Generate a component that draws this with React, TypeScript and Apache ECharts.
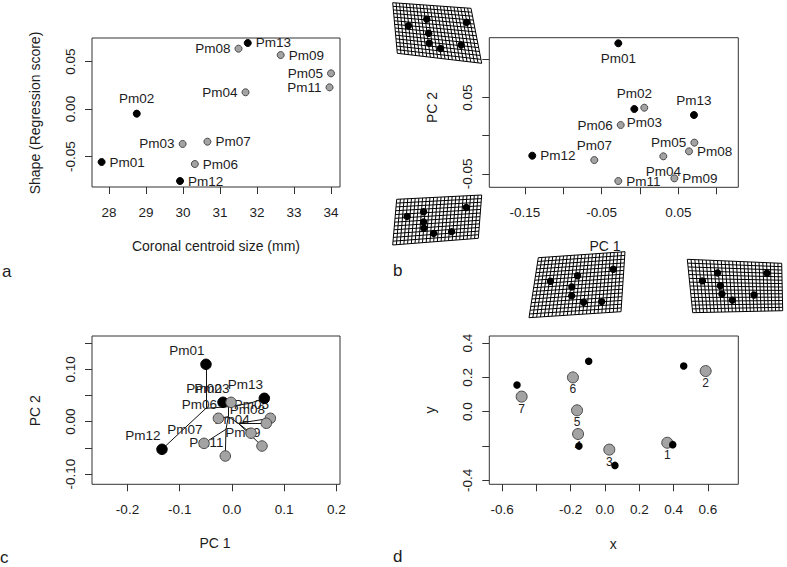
import React, { useEffect, useRef } from "react";
import * as echarts from "echarts";

// ---------- data ----------
const specimens = ["Pm01", "Pm02", "Pm03", "Pm04", "Pm05", "Pm06", "Pm07", "Pm08", "Pm09", "Pm11", "Pm12", "Pm13"];
const isBlack = [true, true, false, false, false, false, false, false, false, false, true, true];

// panel a
const centroidSize = [27.8, 28.75, 29.99, 31.69, 34.0, 30.32, 30.66, 31.5, 32.64, 33.96, 29.92, 31.75];
const regressionScore = [-0.0558, -0.0049, -0.0368, 0.0176, 0.0375, -0.0579, -0.0344, 0.0635, 0.0568, 0.0228, -0.0758, 0.0695];
const labelPosA = ["right", "top", "left", "left", "left", "right", "right", "left", "right", "left", "right", "right"];

// panel b
const pc1B = [-0.0283, -0.0074, 0.0056, 0.0304, 0.0709, -0.0252, -0.0596, 0.0639, 0.0448, -0.0283, -0.1405, 0.0704];
const pc2B = [0.1211, 0.035, 0.0367, -0.027, -0.0091, 0.014, -0.0319, -0.0205, -0.0559, -0.0594, -0.0262, 0.0271];
const labelPosB = ["bottom", "top", "bottom", "bottom", "left", "left", "top", "right", "right", "right", "right", "top"];

// panel c (phylomorphospace)
const pc1C = [-0.0498, -0.0172, -0.0019, 0.0364, 0.0734, -0.026, -0.0536, 0.0657, 0.0574, -0.0128, -0.134, 0.0619];
const pc2C = [0.1097, 0.0371, 0.037, -0.022, 0.0065, 0.0065, -0.0414, -0.003, -0.0465, -0.0656, -0.0528, 0.0447];
const nodeNames = ["N1", "N2", "N3", "N4", "N5", "N6"];
const nodePC1 = [-0.0498, -0.007, -0.007, -0.0115, 0.012, 0.0344];
const nodePC2 = [0.0256, 0.0287, 0.0096, -0.0145, -0.003, 0.0352];
const treeEdges = [
  ["N1", "Pm01"], ["N1", "Pm12"], ["N1", "N2"], ["N2", "Pm02"], ["N2", "Pm03"], ["N2", "N6"], ["N6", "Pm13"],
  ["N2", "N3"], ["N3", "Pm06"], ["N3", "N5"], ["N5", "Pm05"], ["N5", "Pm08"], ["N5", "Pm04"], ["N5", "Pm09"],
  ["N3", "N4"], ["N4", "Pm07"], ["N4", "Pm11"],
];

// panel d
const landmarkIds = ["1", "2", "3", "4", "5", "6", "7"];
const meanX = [0.363, 0.587, 0.025, -0.157, -0.163, -0.187, -0.486];
const meanY = [-0.181, 0.237, -0.221, -0.13, 0.008, 0.2, 0.088];
const targetX = [0.395, 0.459, 0.058, -0.152, -0.095, -0.513];
const targetY = [-0.192, 0.266, -0.313, -0.2, 0.294, 0.156];

// ticks
const ticksAX = [28, 29, 30, 31, 32, 33, 34];
const ticksAY = [-0.05, 0, 0.05];
const ticksBX = [-0.15, -0.1, -0.05, 0, 0.05, 0.1];
const labelsBX = [-0.15, -0.05, 0.05];
const ticksBY = [-0.05, 0, 0.05, 0.1];
const labelsBY = [-0.05, 0.05];
const ticksCX = [-0.2, -0.1, 0, 0.1, 0.2];
const ticksCY = [-0.1, -0.05, 0, 0.05, 0.1, 0.15];
const labelsCY = [-0.1, 0, 0.1];
const ticksDX = [-0.6, -0.4, -0.2, 0, 0.2, 0.4, 0.6];
const labelsDX = [-0.6, -0.2, 0, 0.2, 0.4, 0.6];
const ticksDY = [-0.4, -0.2, 0, 0.2, 0.4];
const labelsDY = [-0.4, 0, 0.2, 0.4];

// deformation-grid landmarks (unit coordinates inside each warped grid)
const warpTLu = [0.17, 0.41, 0.41, 0.4, 0.53, 0.79, 0.91];
const warpTLv = [0.43, 0.27, 0.54, 0.73, 0.81, 0.7, 0.25];
const warpBLu = [0.14, 0.33, 0.34, 0.35, 0.47, 0.68, 0.83];
const warpBLv = [0.39, 0.31, 0.54, 0.68, 0.81, 0.8, 0.27];
const warpBMu = [0.18, 0.48, 0.88, 0.43, 0.44, 0.58, 0.78];
const warpBMv = [0.41, 0.35, 0.28, 0.53, 0.68, 0.8, 0.81];
const warpBRu = [0.14, 0.31, 0.33, 0.34, 0.45, 0.69, 0.84];
const warpBRv = [0.4, 0.24, 0.49, 0.65, 0.77, 0.67, 0.22];

// ---------- styling ----------
const FONT = "'Liberation Sans', Arial, Helvetica, sans-serif";
const TEXT = "#1c1c1c";
const LINE = "#333";
const GRAY = "#a3a3a3";
const GRAY_BORDER = "#4a4a4a";

function xAxis(gridIndex: number, min: number, max: number, ticks: number[], labels: number[], digits: number) {
  return {
    type: "value", gridIndex, min, max,
    axisLine: { show: false, onZero: false },
    axisTick: { show: true, inside: false, length: 7, customValues: ticks, lineStyle: { color: LINE, width: 1 } },
    axisLabel: {
      customValues: labels, margin: 18, fontSize: 13.5, fontFamily: FONT, color: TEXT,
      formatter: (v: number) => v.toFixed(digits),
    },
    splitLine: { show: false },
  };
}
function yAxis(gridIndex: number, min: number, max: number, ticks: number[], labels: number[], digits: number) {
  return {
    type: "value", gridIndex, min, max,
    axisLine: { show: false, onZero: false },
    axisTick: { show: true, inside: false, length: 7, customValues: ticks, lineStyle: { color: LINE, width: 1 } },
    axisLabel: {
      customValues: labels, margin: 15, rotate: 90, fontSize: 13.5, fontFamily: FONT, color: TEXT,
      formatter: (v: number) => v.toFixed(digits),
    },
    splitLine: { show: false },
  };
}

function pointStyle(black: boolean) {
  return black
    ? { color: "#000", borderColor: "#000", borderWidth: 1, opacity: 1 }
    : { color: GRAY, borderColor: GRAY_BORDER, borderWidth: 1, opacity: 1 };
}

function warp(corners: number[][], nu: number, nv: number, lu: number[], lv: number[]) {
  const [tl, tr, br, bl] = corners;
  const P = (u: number, v: number) => [
    (1 - v) * ((1 - u) * tl[0] + u * tr[0]) + v * ((1 - u) * bl[0] + u * br[0]),
    (1 - v) * ((1 - u) * tl[1] + u * tr[1]) + v * ((1 - u) * bl[1] + u * br[1]),
  ];
  const children: any[] = [];
  for (let i = 0; i <= nu; i++) {
    const a = P(i / nu, 0), b = P(i / nu, 1);
    children.push({ type: "line", silent: true, shape: { x1: a[0], y1: a[1], x2: b[0], y2: b[1] }, style: { stroke: "#000", lineWidth: 1 } });
  }
  for (let j = 0; j <= nv; j++) {
    const a = P(0, j / nv), b = P(1, j / nv);
    children.push({ type: "line", silent: true, shape: { x1: a[0], y1: a[1], x2: b[0], y2: b[1] }, style: { stroke: "#000", lineWidth: 1 } });
  }
  lu.forEach((u, k) => {
    const p = P(u, lv[k]);
    children.push({ type: "circle", silent: true, shape: { cx: p[0], cy: p[1], r: 3.7 }, style: { fill: "#000" }, z: 10 });
  });
  return { type: "group", children };
}

function text(t: string, x: number, y: number, size: number, rot = 0, align = "center") {
  return {
    type: "text", x, y, rotation: rot, silent: true,
    style: { text: t, fontSize: size, fontFamily: FONT, fill: TEXT, align, verticalAlign: "middle" },
  };
}

export default function App() {
  const ref = useRef<HTMLDivElement>(null);
  useEffect(() => {
    if (!ref.current) return;
    const chart = echarts.init(ref.current, undefined, { renderer: "svg" });

    const nodeLookup: Record<string, number[]> = {};
    specimens.forEach((s, i) => (nodeLookup[s] = [pc1C[i], pc2C[i]]));
    nodeNames.forEach((n, i) => (nodeLookup[n] = [nodePC1[i], nodePC2[i]]));

    const labelBase = { show: true, formatter: "{b}", fontSize: 13.5, fontFamily: FONT, color: TEXT, distance: 4 };

    const option: any = {
      animation: false,
      backgroundColor: "#fff",
      grid: [
        { left: 92, top: 38, width: 248, height: 149, show: true, borderColor: LINE, borderWidth: 1 },
        { left: 489.3, top: 37.7, width: 249, height: 149.6, show: true, borderColor: LINE, borderWidth: 1 },
        { left: 92, top: 336, width: 248, height: 148.3, show: true, borderColor: LINE, borderWidth: 1 },
        { left: 489.3, top: 336, width: 249, height: 148.3, show: true, borderColor: LINE, borderWidth: 1 },
      ],
      xAxis: [
        xAxis(0, 27.5405, 34.2432, ticksAX, ticksAX, 0),
        xAxis(1, -0.19656, 0.12821, ticksBX, labelsBX, 2),
        xAxis(2, -0.26794, 0.2067, ticksCX, ticksCX, 1),
        xAxis(3, -0.6746, 0.7773, ticksDX, labelsDX, 1),
      ],
      yAxis: [
        yAxis(0, -0.08211, 0.07474, ticksAY, ticksAY, 2),
        yAxis(1, -0.06763, 0.12844, ticksBY, labelsBY, 2),
        yAxis(2, -0.1197, 0.16386, ticksCY, labelsCY, 2),
        yAxis(3, -0.4233, 0.4414, ticksDY, labelsDY, 1),
      ],
      series: [
        {
          type: "scatter", xAxisIndex: 0, yAxisIndex: 0, symbolSize: 7, z: 3,
          label: labelBase,
          data: specimens.map((s, i) => ({
            name: s, value: [centroidSize[i], regressionScore[i]],
            itemStyle: pointStyle(isBlack[i]), label: { position: labelPosA[i] },
          })),
        },
        {
          type: "scatter", xAxisIndex: 1, yAxisIndex: 1, symbolSize: 7, z: 3,
          label: labelBase,
          data: specimens.map((s, i) => ({
            name: s, value: [pc1B[i], pc2B[i]],
            itemStyle: pointStyle(isBlack[i]), label: { position: labelPosB[i] },
          })),
        },
        {
          type: "lines", coordinateSystem: "cartesian2d", xAxisIndex: 2, yAxisIndex: 2, z: 1,
          lineStyle: { color: "#111", width: 1, opacity: 1 },
          data: treeEdges.map(([a, b]) => ({ coords: [nodeLookup[a], nodeLookup[b]] })),
        },
        {
          type: "scatter", xAxisIndex: 2, yAxisIndex: 2, symbolSize: 1, z: 2,
          itemStyle: { color: "rgba(0,0,0,0)", opacity: 1 },
          label: { ...labelBase, position: "inside", offset: [-19, -14] },
          data: specimens.map((s, i) => ({ name: s, value: [pc1C[i], pc2C[i]] })),
        },
        {
          type: "scatter", xAxisIndex: 2, yAxisIndex: 2, symbolSize: 10.5, z: 4,
          data: specimens.map((s, i) => ({ name: s, value: [pc1C[i], pc2C[i]], itemStyle: pointStyle(isBlack[i]) })),
        },
        {
          type: "scatter", xAxisIndex: 3, yAxisIndex: 3, symbolSize: 11, z: 3,
          itemStyle: { color: GRAY, borderColor: GRAY_BORDER, borderWidth: 1, opacity: 1 },
          label: { show: true, formatter: "{b}", position: "inside", offset: [0, 12], fontSize: 12, fontFamily: FONT, color: "#222" },
          data: landmarkIds.map((id, i) => ({ name: id, value: [meanX[i], meanY[i]] })),
        },
        {
          type: "scatter", xAxisIndex: 3, yAxisIndex: 3, symbolSize: 7.5, z: 5,
          itemStyle: { color: "#000", opacity: 1 },
          data: targetX.map((x, i) => [x, targetY[i]]),
        },
      ],
      graphic: [
        warp([[392.7, 2.7], [471, 8.3], [481.7, 63.3], [397.3, 53.3]], 23, 14, warpTLu, warpTLv),
        warp([[396.7, 199.3], [481.7, 195], [478.3, 238.3], [392.7, 245]], 23, 12, warpBLu, warpBLv),
        warp([[538.3, 257.7], [625, 251.7], [621, 311.7], [529, 317.7]], 24, 16, warpBMu, warpBMv),
        warp([[687.3, 259.3], [781.7, 263.3], [782.7, 310.7], [692.7, 312.7]], 25, 14, warpBRu, warpBRv),
        text("Coronal centroid size (mm)", 216, 246, 14),
        text("Shape (Regression score)", 35, 113, 14, Math.PI / 2),
        text("PC 1", 605, 246, 14),
        text("PC 2", 431.7, 107.5, 14, Math.PI / 2),
        text("PC 1", 215, 543.3, 14),
        text("PC 2", 35, 410.7, 14, Math.PI / 2),
        text("x", 613.3, 544, 14),
        text("y", 430, 410, 14, Math.PI / 2),
        text("a", 2, 271, 17, 0, "left"),
        text("b", 393, 270.5, 17, 0, "left"),
        text("c", 0, 557.5, 17, 0, "left"),
        text("d", 393, 556, 17, 0, "left"),
      ],
    };
    chart.setOption(option);
    return () => chart.dispose();
  }, []);
  return <div ref={ref} style={{ position: "fixed", left: 0, top: 0, width: 787, height: 567 }} />;
}
